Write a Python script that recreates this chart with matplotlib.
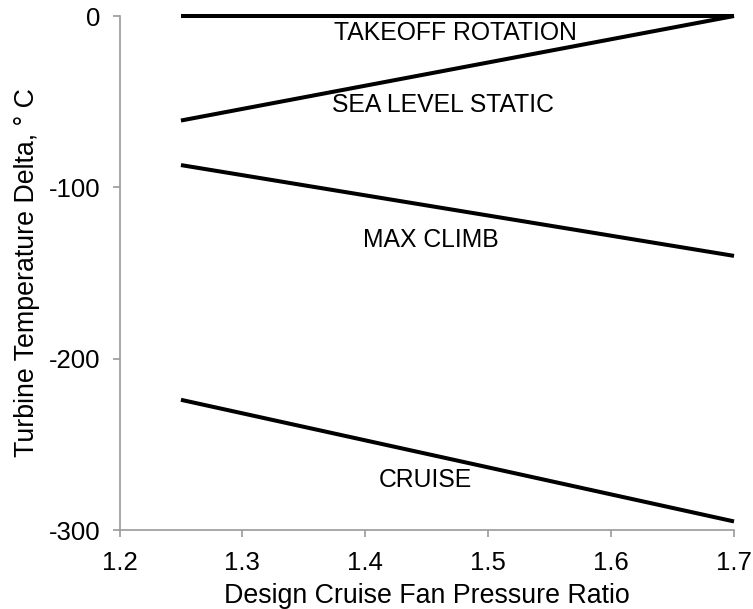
import matplotlib
matplotlib.use("Agg")
import matplotlib.pyplot as plt

# design cruise fan pressure ratio at the two ends of each line
fpr = [1.25, 1.7]

takeoff_rotation = [0, 0]
sea_level_static = [-61, 0]
max_climb = [-87, -140]
cruise = [-224, -295]

series = [
    (takeoff_rotation, "TAKEOFF ROTATION", (1.473, -10)),
    (sea_level_static, "SEA LEVEL STATIC", (1.463, -52)),
    (max_climb, "MAX CLIMB", (1.453, -131)),
    (cruise, "CRUISE", (1.449, -271)),
]

xticks = [1.2, 1.3, 1.4, 1.5, 1.6, 1.7]
yticks = [0, -100, -200, -300]

plt.rcParams['font.family'] = ['Liberation Sans', 'DejaVu Sans']
plt.rcParams['axes.unicode_minus'] = False

fig = plt.figure(figsize=(7.53, 6.09), dpi=100)
ax = fig.add_axes([0.1587, 0.1297, 0.8161, 0.844])

for y, name, (tx, ty) in series:
    ax.plot(fpr, y, color='black', linewidth=2.9, solid_capstyle='butt',
            clip_on=False, zorder=3)
    ax.text(tx, ty, name, fontsize=17.8, ha='center', va='center')

ax.set_xlim(1.2, 1.7)
ax.set_ylim(-300, 0)
ax.set_xticks(xticks)
ax.set_yticks(yticks)
ax.set_xticklabels([f"{v:.1f}" for v in xticks])
ax.set_yticklabels([str(v) for v in yticks])

for side in ['top', 'right']:
    ax.spines[side].set_visible(False)
for side in ['left', 'bottom']:
    ax.spines[side].set_color('#9a9a9a')
    ax.spines[side].set_linewidth(1.2)
ax.tick_params(colors='#9a9a9a', labelcolor='black', direction='out',
               length=5, width=1.2, labelsize=18.5)
ax.tick_params(axis='x', pad=10)
ax.tick_params(axis='y', pad=9)

ax.set_xlabel("Design Cruise Fan Pressure Ratio", fontsize=19.3, labelpad=6)
ax.set_ylabel("Turbine Temperature Delta, ° C", fontsize=19.3, labelpad=6)

fig.savefig("out.png", dpi=100)
